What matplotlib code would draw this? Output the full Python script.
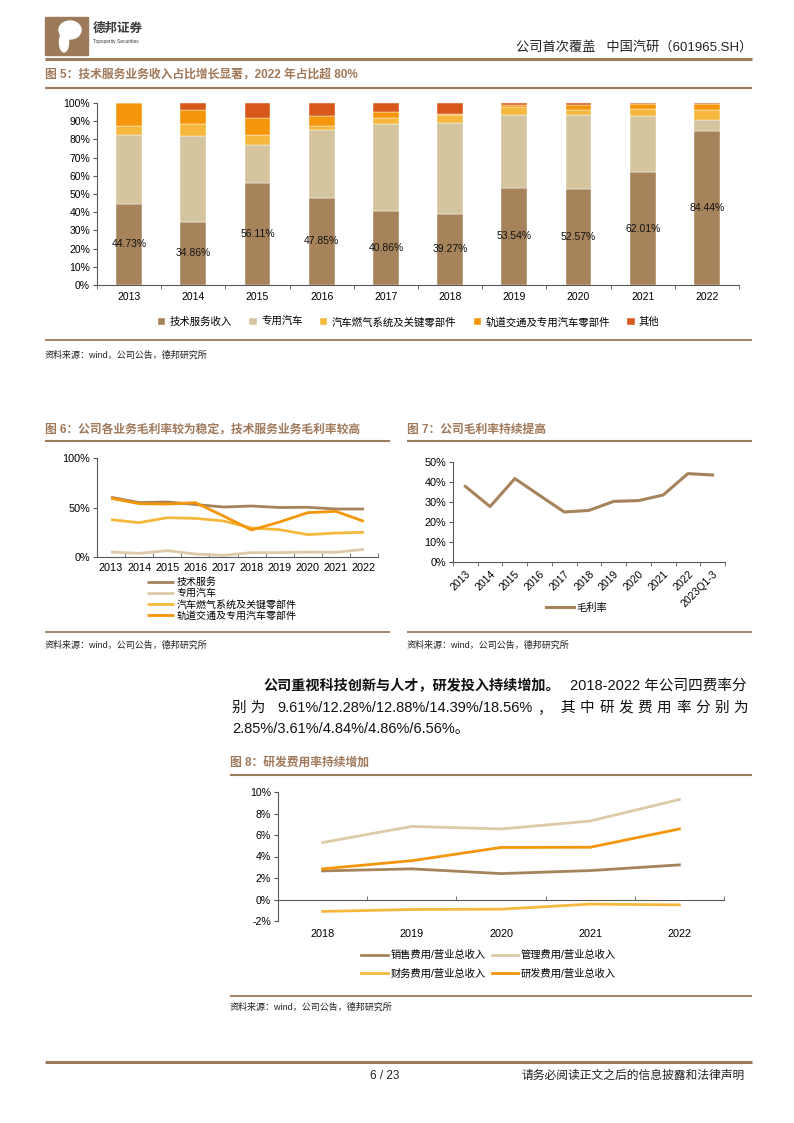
import matplotlib
matplotlib.use('Agg')
import matplotlib.pyplot as plt
import numpy as np
from matplotlib.lines import Line2D
from matplotlib.patches import Rectangle, Ellipse
from matplotlib.ticker import FuncFormatter

plt.rcParams['font.family'] = ['Liberation Sans', 'Noto Sans CJK SC', 'DejaVu Sans']
plt.rcParams['axes.unicode_minus'] = False

# ---------------- data ----------------
years5 = ['2013', '2014', '2015', '2016', '2017', '2018', '2019', '2020', '2021', '2022']
names5 = ['技术服务收入', '专用汽车', '汽车燃气系统及关键零部件', '轨道交通及专用汽车零部件', '其他']
tech_share = [44.73, 34.86, 56.11, 47.85, 40.86, 39.27, 53.54, 52.57, 62.01, 84.44]
special_share = [37.5, 47.0, 21.0, 37.5, 47.8, 49.7, 40.1, 41.0, 30.7, 6.0]
gas_share = [5.2, 6.6, 5.5, 1.9, 3.0, 4.2, 4.0, 2.7, 4.2, 5.8]
rail_share = [12.5, 7.7, 9.3, 5.8, 3.3, 0.9, 1.5, 2.6, 2.4, 3.0]
other_share = [0.1, 3.84, 8.09, 6.95, 5.04, 5.93, 0.86, 1.13, 0.69, 0.76]

years6 = ['2013', '2014', '2015', '2016', '2017', '2018', '2019', '2020', '2021', '2022']
names6 = ['技术服务', '专用汽车', '汽车燃气系统及关键零部件', '轨道交通及专用汽车零部件']
gm_tech = [60.3, 55.0, 55.6, 53.0, 50.5, 51.5, 50.0, 50.2, 48.5, 48.5]
gm_special = [5.0, 3.7, 6.4, 3.0, 1.7, 4.4, 4.4, 5.0, 4.7, 7.7]
gm_gas = [37.7, 34.7, 39.7, 39.0, 36.4, 29.3, 27.6, 22.6, 24.2, 24.9]
gm_rail = [59.3, 53.9, 53.5, 54.9, 41.4, 27.3, 35.4, 44.8, 46.1, 36.0]

periods7 = ['2013', '2014', '2015', '2016', '2017', '2018', '2019', '2020', '2021', '2022', '2023Q1-3']
gross_margin = [37.8, 27.7, 41.7, 33.3, 25.0, 25.8, 30.3, 30.7, 33.5, 44.2, 43.5]

years8 = ['2018', '2019', '2020', '2021', '2022']
names8 = ['销售费用/营业总收入', '管理费用/营业总收入', '财务费用/营业总收入', '研发费用/营业总收入']
sales_rate = [2.66, 2.85, 2.41, 2.69, 3.22]
admin_rate = [5.30, 6.80, 6.56, 7.30, 9.30]
fin_rate = [-1.11, -0.93, -0.90, -0.43, -0.50]
rd_rate = [2.85, 3.61, 4.84, 4.86, 6.56]

# ---------------- style ----------------
C_TECH = '#A6835B'
C_SPEC = '#D5C59E'
C_GAS = '#F5B83D'
C_RAIL = '#F5960A'
C_OTHER = '#D8581C'
RULE = '#9E7B5C'
TITLE = '#A0785A'
AX = '#595959'

W, H = 794, 1123
fig = plt.figure(figsize=(W / 100, H / 100), dpi=100)


def rect(x0, y0, x1, y1):
    return [x0 / W, 1 - y1 / H, (x1 - x0) / W, (y1 - y0) / H]


def fx(x):
    return x / W


def fy(y):
    return 1 - y / H


def hline(x0, x1, y, lw=1.5, color=RULE):
    fig.add_artist(Line2D([fx(x0), fx(x1)], [fy(y), fy(y)], color=color, lw=lw,
                          transform=fig.transFigure, solid_capstyle='butt'))


def ftext(x, y, s, **kw):
    kw.setdefault('va', 'center')
    return fig.text(fx(x), fy(y), s, **kw)


def style_axes(ax):
    for s in ['top', 'right']:
        ax.spines[s].set_visible(False)
    for s in ['left', 'bottom']:
        ax.spines[s].set_color(AX)
        ax.spines[s].set_linewidth(0.8)


pct0 = FuncFormatter(lambda v, p: f'{v:.0f}%')

# ---------------- header ----------------
fig.add_artist(Rectangle((fx(45), fy(55)), 43 / W, 38 / H, transform=fig.transFigure,
                         color='#9C7A5A', zorder=1))
fig.add_artist(Ellipse((fx(70), fy(30)), 22 / W, 18 / H, transform=fig.transFigure,
                       color='white', zorder=2))
fig.add_artist(Ellipse((fx(64), fy(42)), 9 / W, 20 / H, transform=fig.transFigure,
                       color='white', zorder=2))
ftext(93, 29, '德邦证券', fontsize=9, fontweight='bold', color='#3a3a3a')
ftext(93, 41, 'Topsperity Securities', fontsize=3.5, color='#3a3a3a')
ftext(752, 47, '公司首次覆盖   中国汽研（601965.SH）', fontsize=9.5, ha='right', color='#222222')
hline(45, 752, 59, lw=2.2)

# ---------------- chart 5 ----------------
ftext(45, 75, '图 5：技术服务业务收入占比增长显著，2022 年占比超 80%', fontsize=8.5,
      fontweight='bold', color=TITLE)
hline(45, 752, 88, lw=1.5)

ax5 = fig.add_axes(rect(97, 103, 739, 285))
x5 = np.arange(len(years5))
bottom = np.zeros(len(years5))
cols5 = [C_TECH, C_SPEC, C_GAS, C_RAIL, C_OTHER]
for vals, col, lab in zip([tech_share, special_share, gas_share, rail_share, other_share], cols5, names5):
    ax5.bar(x5, vals, 0.4, bottom=bottom, color=col, label=lab, edgecolor='white', linewidth=0.3)
    bottom += np.array(vals)
for xi, v in zip(x5, tech_share):
    ax5.text(xi, v / 2, f'{v:.2f}%', ha='center', va='center', fontsize=7.5, color='#111111')
ax5.set_xlim(-0.5, len(years5) - 0.5)
ax5.set_ylim(0, 100)
ax5.set_yticks(np.arange(0, 101, 10))
ax5.yaxis.set_major_formatter(pct0)
ax5.set_xticks(x5)
ax5.set_xticklabels(years5)
ax5.set_xticks(np.arange(-0.5, len(years5), 1), minor=True)
ax5.tick_params(axis='x', which='major', length=0, labelsize=7.5, pad=5)
ax5.tick_params(axis='x', which='minor', length=3, direction='out', color=AX)
ax5.tick_params(axis='y', length=3, labelsize=7.5, color=AX, pad=2)
style_axes(ax5)
h5, l5 = ax5.get_legend_handles_labels()
fig.legend(h5, l5, loc='center left', bbox_to_anchor=(fx(158), fy(322)), ncol=5, frameon=False,
           fontsize=7.5, handlelength=0.7, handleheight=0.7, handletextpad=0.4,
           columnspacing=1.7, borderpad=0, borderaxespad=0)
hline(45, 752, 340, lw=1.3)
ftext(45, 355, '资料来源：wind，公司公告，德邦研究所', fontsize=6.5, color='#222222')

# ---------------- chart 6 ----------------
ftext(45, 430, '图 6：公司各业务毛利率较为稳定，技术服务业务毛利率较高', fontsize=8.5,
      fontweight='bold', color=TITLE)
hline(45, 390, 441, lw=1.5)
ax6 = fig.add_axes(rect(97, 458, 378, 557))
x6 = np.arange(len(years6))
for vals, col, lab in zip([gm_tech, gm_special, gm_gas, gm_rail],
                          [C_TECH, '#DCCBA6', C_GAS, C_RAIL], names6):
    ax6.plot(x6, vals, color=col, lw=2.0, label=lab, solid_capstyle='butt')
ax6.set_xlim(-0.5, len(years6) - 0.5)
ax6.set_ylim(0, 100)
ax6.set_yticks([0, 50, 100])
ax6.yaxis.set_major_formatter(pct0)
ax6.set_xticks(x6)
ax6.set_xticklabels(years6)
ax6.set_xticks(np.arange(-0.5, len(years6), 1), minor=True)
ax6.tick_params(axis='x', which='major', length=0, labelsize=7.8, pad=4)
ax6.tick_params(axis='x', which='minor', length=3, direction='in', color=AX)
ax6.tick_params(axis='y', length=3, labelsize=7.8, color=AX, pad=2)
style_axes(ax6)
h6, l6 = ax6.get_legend_handles_labels()
fig.legend(h6, l6, loc='upper left', bbox_to_anchor=(fx(147), fy(577)), ncol=1, frameon=False,
           fontsize=7.2, handlelength=2.7, handletextpad=0.25, labelspacing=0.13,
           borderpad=0, borderaxespad=0)
hline(45, 390, 632, lw=1.3)
ftext(45, 645, '资料来源：wind，公司公告，德邦研究所', fontsize=6.5, color='#222222')

# ---------------- chart 7 ----------------
ftext(407, 430, '图 7：公司毛利率持续提高', fontsize=8.5, fontweight='bold', color=TITLE)
hline(407, 752, 441, lw=1.5)
ax7 = fig.add_axes(rect(453, 462, 725, 562))
x7 = np.arange(len(periods7))
ax7.plot(x7, gross_margin, color=C_TECH, lw=2.2, label='毛利率')
ax7.set_xlim(-0.5, len(periods7) - 0.5)
ax7.set_ylim(0, 50)
ax7.set_yticks(np.arange(0, 51, 10))
ax7.yaxis.set_major_formatter(pct0)
ax7.set_xticks(x7)
ax7.set_xticklabels(periods7, rotation=45, ha='right', rotation_mode='anchor')
ax7.set_xticks(np.arange(-0.5, len(periods7), 1), minor=True)
ax7.tick_params(axis='x', which='major', length=0, labelsize=7.6, pad=5)
ax7.tick_params(axis='x', which='minor', length=3, direction='out', color=AX)
ax7.tick_params(axis='y', length=3, labelsize=7.8, color=AX, pad=2)
style_axes(ax7)
h7, l7 = ax7.get_legend_handles_labels()
fig.legend(h7, l7, loc='center left', bbox_to_anchor=(fx(546), fy(608)), frameon=False,
           fontsize=7.4, handlelength=2.7, handletextpad=0.25, borderpad=0, borderaxespad=0)
hline(407, 752, 632, lw=1.3)
ftext(407, 645, '资料来源：wind，公司公告，德邦研究所', fontsize=6.5, color='#222222')

# ---------------- paragraph ----------------
ftext(263, 686, '公司重视科技创新与人才，研发投入持续增加。', fontsize=10.2, fontweight='bold',
      color='#111111')
ftext(747, 686, '2018-2022 年公司四费率分', fontsize=10.5, ha='right', color='#111111')
ftext(232, 708, '别 为', fontsize=10.5, color='#111111')
ftext(277, 708, '9.61%/12.28%/12.88%/14.39%/18.56%', fontsize=10.5, color='#111111')
ftext(538, 708, '，', fontsize=10.5, color='#111111')
for i, ch in enumerate('其中研发费用率分别为'):
    ftext(568 + i * 19.2, 708, ch, fontsize=10.5, ha='center', color='#111111')
ftext(232, 729, '2.85%/3.61%/4.84%/4.86%/6.56%。', fontsize=10.5, color='#111111')

# ---------------- chart 8 ----------------
ftext(230, 763, '图 8：研发费用率持续增加', fontsize=8.5, fontweight='bold', color=TITLE)
hline(230, 752, 775, lw=1.5)
ax8 = fig.add_axes(rect(278, 792, 724, 921))
x8 = np.arange(len(years8))
for vals, col, lab in zip([sales_rate, admin_rate, fin_rate, rd_rate],
                          [C_TECH, '#DCCBA6', C_GAS, C_RAIL], names8):
    ax8.plot(x8, vals, color=col, lw=2.0, label=lab)
ax8.set_xlim(-0.5, len(years8) - 0.5)
ax8.set_ylim(-2, 10)
ax8.set_yticks(np.arange(-2, 11, 2))
ax8.yaxis.set_major_formatter(pct0)
ax8.spines['bottom'].set_position(('data', 0))
ax8.set_xticks(x8)
ax8.set_xticklabels(years8)
ax8.set_xticks(np.arange(-0.5, len(years8), 1), minor=True)
ax8.tick_params(axis='x', which='major', length=0, labelsize=7.8, pad=21)
ax8.tick_params(axis='x', which='minor', length=3, direction='in', color=AX)
ax8.tick_params(axis='y', length=3, labelsize=7.6, color=AX, pad=2)
style_axes(ax8)
h8, l8 = ax8.get_legend_handles_labels()
order = [0, 2, 1, 3]
fig.legend([h8[i] for i in order], [l8[i] for i in order], loc='upper left',
           bbox_to_anchor=(fx(361), fy(950)), ncol=2, frameon=False, fontsize=7.4,
           handlelength=2.6, handletextpad=0.25, columnspacing=0.6, labelspacing=0.8,
           borderpad=0, borderaxespad=0)
hline(230, 752, 996, lw=1.3)
ftext(230, 1007, '资料来源：wind，公司公告，德邦研究所', fontsize=6.5, color='#222222')

# ---------------- footer ----------------
hline(45, 752, 1062, lw=2.2)
ftext(385, 1076, '6 / 23', fontsize=8.5, ha='center', color='#222222')
ftext(745, 1076, '请务必阅读正文之后的信息披露和法律声明', fontsize=8.5, ha='right', color='#222222')

fig.savefig('out.png', dpi=100)
